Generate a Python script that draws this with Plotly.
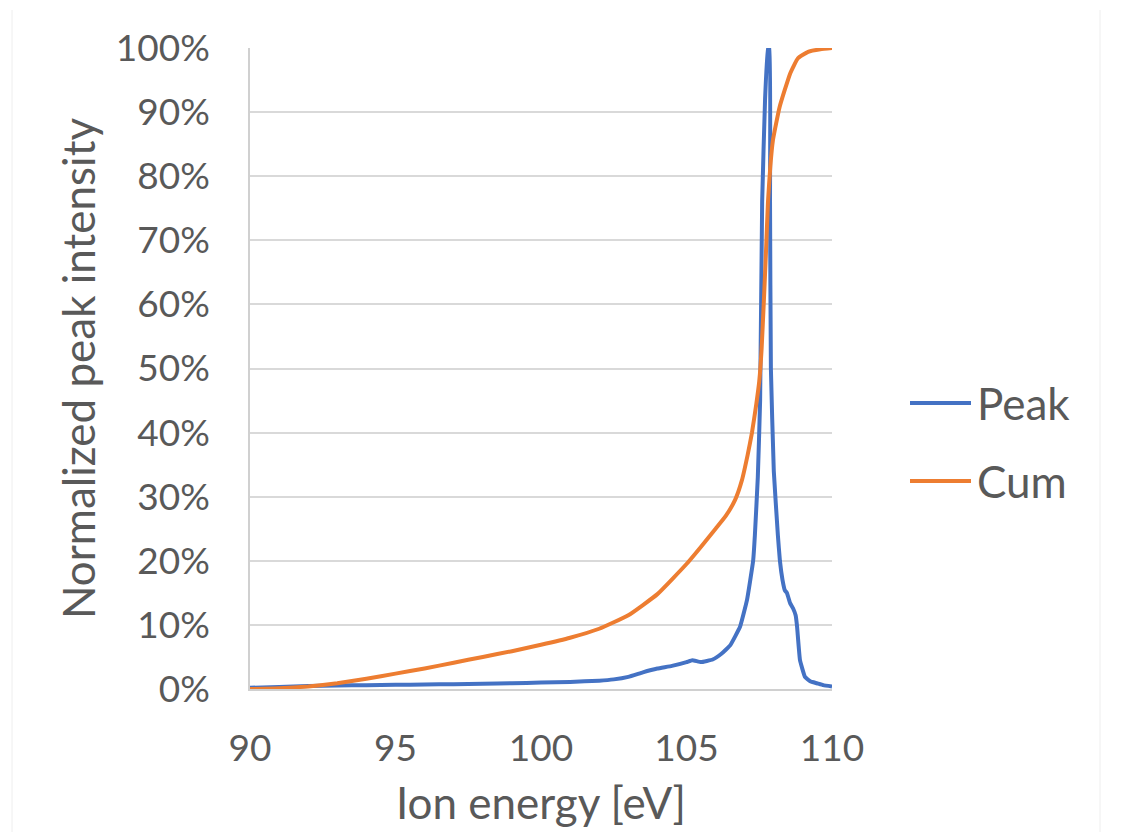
import plotly.graph_objects as go

# Peak (blue) series: ion energy [eV] and normalized intensity [%]
peak_energy = [90.0, 91.0, 92.0, 93.0, 94.0, 95.0, 96.0, 97.0, 98.0, 99.0, 100.0, 101.0, 102.0, 102.5,
               103.0, 103.5, 104.0, 104.5, 105.0, 105.2, 105.5, 105.9, 106.2, 106.5, 106.84, 107.08,
               107.29, 107.35, 107.45, 107.53, 107.6, 107.7, 107.8, 107.85, 107.87, 107.9, 108.0,
               108.14, 108.21, 108.3, 108.38, 108.45, 108.56, 108.66, 108.75, 108.8, 108.9, 109.07,
               109.25, 109.48, 109.7, 110.0]
peak_value = [0.2, 0.3, 0.45, 0.55, 0.6, 0.65, 0.7, 0.75, 0.8, 0.9, 1.0, 1.1, 1.3, 1.5,
              1.9, 2.6, 3.2, 3.6, 4.2, 4.5, 4.2, 4.6, 5.5, 6.8, 9.7, 13.9,
              20.0, 24.0, 33.0, 45.0, 76.0, 92.0, 100.0, 100.0, 76.0, 50.0, 34.0,
              24.0, 20.0, 17.0, 15.4, 15.0, 13.4, 12.6, 11.5, 9.7, 4.5, 1.9,
              1.2, 0.9, 0.6, 0.4]

# Cumulative (orange) series
cum_energy = [90.0, 91.0, 92.0, 93.0, 94.0, 95.0, 96.0, 97.0, 98.0, 99.0, 100.0, 101.0, 102.0,
              103.0, 104.0, 105.0, 105.5, 106.0, 106.35, 106.67, 106.9, 107.1, 107.25, 107.4,
              107.5, 107.58, 107.66, 107.73, 107.8, 107.88, 107.97, 108.2, 108.56, 108.83,
              109.18, 109.6, 110.0]
cum_value = [0.0, 0.1, 0.4, 0.9, 1.6, 2.4, 3.2, 4.1, 5.0, 5.9, 6.9, 8.0, 9.4,
             11.5, 14.8, 19.5, 22.2, 25.0, 27.0, 29.5, 32.5, 36.5, 40.0, 44.5,
             48.0, 53.0, 60.7, 68.0, 76.0, 81.5, 85.6, 90.8, 96.0, 98.4,
             99.4, 99.8, 100.0]

x_ticks = [90, 95, 100, 105, 110]
y_ticks = [0, 10, 20, 30, 40, 50, 60, 70, 80, 90, 100]
y_tick_labels = [f"{v}%" for v in y_ticks]

series_names = ["Peak", "Cum"]
series_colors = ["#4472C4", "#ED7D31"]

FONT = "Lato, 'Open Sans', sans-serif"
TXT = "#595959"

fig = go.Figure()
fig.add_trace(go.Scatter(x=peak_energy, y=peak_value, mode="lines", name=series_names[0],
                         line=dict(color=series_colors[0], width=4, shape="spline", smoothing=0.3),
                         cliponaxis=True))
fig.add_trace(go.Scatter(x=cum_energy, y=cum_value, mode="lines", name=series_names[1],
                         line=dict(color=series_colors[1], width=4, shape="spline", smoothing=0.4),
                         cliponaxis=True))

W, H = 1134, 832
L, R, T, B = 250, 302, 48, 143

fig.update_layout(
    width=W, height=H,
    margin=dict(l=L, r=R, t=T, b=B, pad=0),
    paper_bgcolor="white", plot_bgcolor="white",
    showlegend=False,
    font=dict(family=FONT, color=TXT, size=36),
)
fig.update_xaxes(
    range=[90, 110], tickvals=x_ticks, ticktext=[str(v) for v in x_ticks],
    showgrid=False, zeroline=False, showline=True, linecolor="#d0d0d0", linewidth=1.5,
    ticks="", tickfont=dict(size=37, color=TXT, family=FONT), ticklabelstandoff=26,
    title=dict(text="Ion energy [eV]", font=dict(size=44, color=TXT, family=FONT), standoff=20),
)
fig.update_yaxes(
    range=[0, 100], tickvals=y_ticks, ticktext=y_tick_labels,
    showgrid=True, gridcolor="#d9d9d9", gridwidth=1.5, zeroline=False,
    showline=True, linecolor="#d0d0d0", linewidth=1.5,
    ticks="", tickfont=dict(size=37, color=TXT, family=FONT), ticklabelstandoff=31,
    title=dict(text="Normalized peak intensity", font=dict(size=44, color=TXT, family=FONT), standoff=6),
)

# Manual legend (paper coordinates derived from pixel layout)
pw = W - L - R
ph = H - T - B
def px(xp):
    return (xp - L) / pw
def py(yp):
    return (H - B - yp) / ph

legend_y = [403, 481]
for name, color, yy in zip(series_names, series_colors, legend_y):
    fig.add_shape(type="line", xref="paper", yref="paper",
                  x0=px(910), x1=px(971), y0=py(yy), y1=py(yy),
                  line=dict(color=color, width=4))
    fig.add_annotation(text=name, xref="paper", yref="paper", x=px(975), y=py(yy),
                       xanchor="left", yanchor="middle", showarrow=False,
                       font=dict(size=44, color=TXT, family=FONT))

# faint chart border
for xb in [12, 1100]:
    fig.add_shape(type="line", xref="paper", yref="paper",
                  x0=px(xb), x1=px(xb), y0=py(832), y1=py(10),
                  line=dict(color="#eeeeee", width=1))

fig.write_html("out.html")
